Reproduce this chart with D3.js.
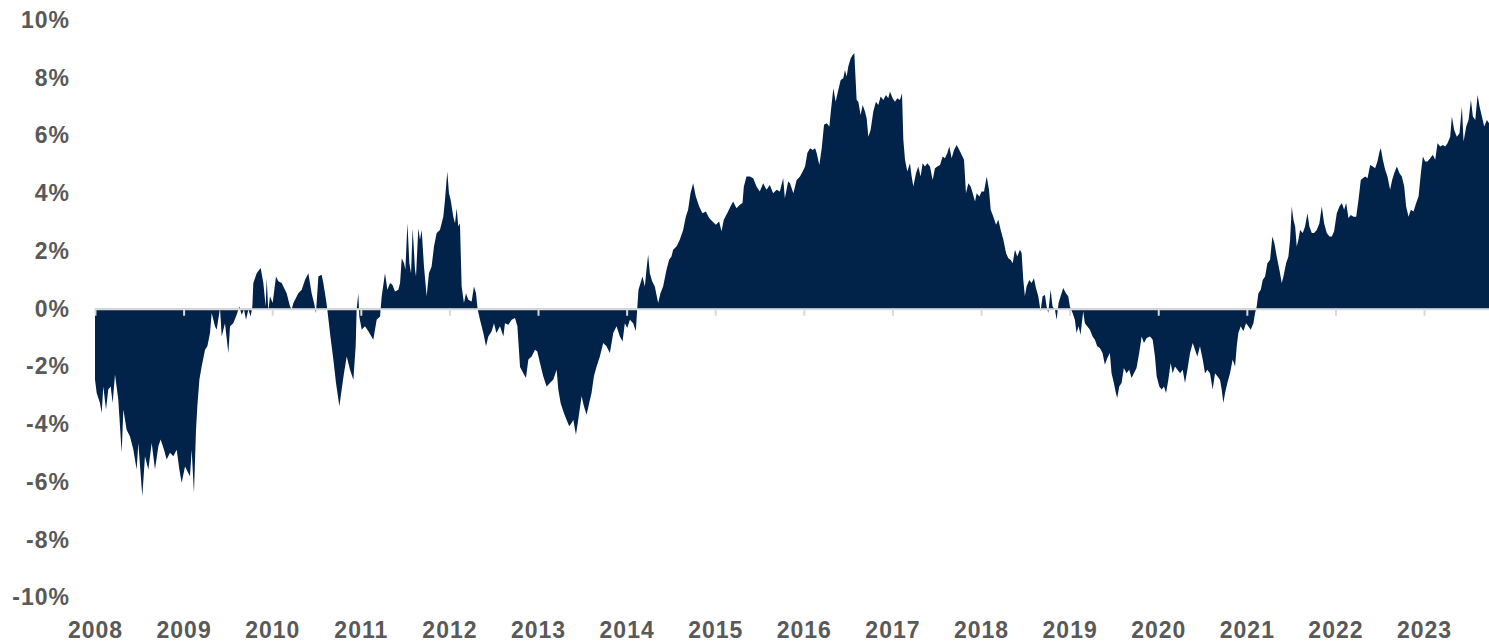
<!DOCTYPE html>
<html>
<head>
<meta charset="utf-8">
<script src="https://cdn.jsdelivr.net/npm/d3@7"></script>
<style>
  body { margin: 0; background: #fff; }
  svg text { font-family: "Liberation Sans", Arial, sans-serif; font-weight: bold; fill: #595959; letter-spacing: 1px; }
</style>
</head>
<body>
<svg></svg>
<script>
// dates as decimal years, values in %
var dates = [
  2008.000, 2008.019, 2008.056, 2008.075, 2008.094, 2008.124, 2008.150, 2008.177, 2008.199, 2008.226,
  2008.263, 2008.301, 2008.320, 2008.357, 2008.395, 2008.433, 2008.470, 2008.489, 2008.534, 2008.564,
  2008.602, 2008.640, 2008.677, 2008.715, 2008.741, 2008.779, 2008.809, 2008.846, 2008.884, 2008.922,
  2008.952, 2008.978,
  2009.016, 2009.072, 2009.091, 2009.117, 2009.140, 2009.155, 2009.178, 2009.204, 2009.242, 2009.268,
  2009.298, 2009.317, 2009.354, 2009.373, 2009.411, 2009.430, 2009.467, 2009.505, 2009.524, 2009.561,
  2009.599, 2009.629, 2009.655, 2009.682, 2009.704, 2009.731, 2009.757, 2009.776, 2009.787, 2009.825,
  2009.870, 2009.900, 2009.926, 2009.938, 2009.956, 2009.975,
  2010.005, 2010.043, 2010.069, 2010.107, 2010.163, 2010.201, 2010.220, 2010.239, 2010.295, 2010.333,
  2010.370, 2010.408, 2010.445, 2010.472, 2010.494, 2010.521, 2010.558, 2010.577, 2010.607, 2010.622,
  2010.652, 2010.690, 2010.720, 2010.758, 2010.784, 2010.810, 2010.841, 2010.878, 2010.916, 2010.942,
  2010.953, 2010.972, 2010.983,
  2011.010, 2011.047, 2011.085, 2011.141, 2011.179, 2011.217, 2011.236, 2011.273, 2011.300, 2011.330,
  2011.356, 2011.386, 2011.424, 2011.443, 2011.462, 2011.488, 2011.503, 2011.526, 2011.548, 2011.567,
  2011.585, 2011.612, 2011.623, 2011.649, 2011.668, 2011.687, 2011.713, 2011.743, 2011.769, 2011.799,
  2011.826, 2011.856, 2011.893, 2011.931, 2011.950, 2011.976, 2011.995,
  2012.014, 2012.044, 2012.063, 2012.082, 2012.100, 2012.119, 2012.138, 2012.164, 2012.187, 2012.213,
  2012.251, 2012.277, 2012.300, 2012.318, 2012.345, 2012.383, 2012.413, 2012.439, 2012.477, 2012.503,
  2012.530, 2012.571, 2012.609, 2012.627, 2012.665, 2012.703, 2012.740, 2012.767, 2012.797, 2012.834,
  2012.864, 2012.891, 2012.928, 2012.966, 2012.992,
  2013.022, 2013.059, 2013.097, 2013.134, 2013.172, 2013.210, 2013.229, 2013.255, 2013.292, 2013.322,
  2013.352, 2013.379, 2013.398, 2013.428, 2013.454, 2013.492, 2013.518, 2013.548, 2013.578, 2013.604,
  2013.631, 2013.661, 2013.698, 2013.736, 2013.773, 2013.811, 2013.849, 2013.886, 2013.924, 2013.954,
  2013.980,
  2014.007, 2014.037, 2014.074, 2014.104, 2014.119, 2014.134, 2014.157, 2014.179, 2014.206, 2014.224,
  2014.243, 2014.262, 2014.288, 2014.318, 2014.356, 2014.382, 2014.412, 2014.450, 2014.480, 2014.506,
  2014.525, 2014.563, 2014.600, 2014.638, 2014.668, 2014.694, 2014.721, 2014.751, 2014.781, 2014.819,
  2014.856, 2014.894, 2014.931, 2014.969,
  2015.007, 2015.044, 2015.071, 2015.097, 2015.135, 2015.172, 2015.202, 2015.240, 2015.278, 2015.308,
  2015.323, 2015.353, 2015.391, 2015.428, 2015.466, 2015.503, 2015.541, 2015.579, 2015.616, 2015.654,
  2015.692, 2015.729, 2015.767, 2015.786, 2015.823, 2015.844, 2015.882, 2015.919, 2015.957, 2015.987,
  2016.014, 2016.040, 2016.070, 2016.100, 2016.127, 2016.145, 2016.175, 2016.202, 2016.228, 2016.258,
  2016.288, 2016.303, 2016.333, 2016.359, 2016.389, 2016.416, 2016.446, 2016.464, 2016.483, 2016.502,
  2016.528, 2016.551, 2016.570, 2016.581, 2016.596, 2016.615, 2016.641, 2016.664, 2016.690, 2016.709,
  2016.728, 2016.754, 2016.784, 2016.814, 2016.840, 2016.867, 2016.897, 2016.927, 2016.953, 2016.972,
  2017.002, 2017.029, 2017.055, 2017.085, 2017.108, 2017.123, 2017.142, 2017.168, 2017.198, 2017.217,
  2017.236, 2017.266, 2017.292, 2017.318, 2017.341, 2017.367, 2017.394, 2017.424, 2017.454, 2017.480,
  2017.507, 2017.537, 2017.567, 2017.593, 2017.620, 2017.642, 2017.668, 2017.695, 2017.725, 2017.755,
  2017.781, 2017.808, 2017.830, 2017.857, 2017.883, 2017.906, 2017.932, 2017.951, 2017.981,
  2018.007, 2018.034, 2018.064, 2018.090, 2018.109, 2018.139, 2018.169, 2018.195, 2018.222, 2018.252,
  2018.282, 2018.308, 2018.334, 2018.357, 2018.383, 2018.409, 2018.439, 2018.458, 2018.477, 2018.495,
  2018.514, 2018.544, 2018.571, 2018.597, 2018.620, 2018.646, 2018.672, 2018.695, 2018.721, 2018.740,
  2018.759, 2018.785, 2018.807, 2018.834, 2018.853, 2018.875, 2018.898, 2018.928, 2018.958, 2018.984,
  2019.003, 2019.033, 2019.059, 2019.078, 2019.101, 2019.123, 2019.153, 2019.172, 2019.198, 2019.229,
  2019.259, 2019.285, 2019.311, 2019.341, 2019.371, 2019.398, 2019.424, 2019.454, 2019.473, 2019.499,
  2019.522, 2019.537, 2019.560, 2019.586, 2019.612, 2019.642, 2019.672, 2019.699, 2019.725, 2019.755,
  2019.785, 2019.813, 2019.839, 2019.869, 2019.907, 2019.937, 2019.963, 2019.982,
  2020.012, 2020.039, 2020.065, 2020.088, 2020.114, 2020.140, 2020.163, 2020.189, 2020.216, 2020.246,
  2020.276, 2020.302, 2020.329, 2020.359, 2020.389, 2020.415, 2020.441, 2020.471, 2020.502, 2020.528,
  2020.554, 2020.584, 2020.614, 2020.641, 2020.667, 2020.697, 2020.716, 2020.735, 2020.754, 2020.780,
  2020.810, 2020.840, 2020.867, 2020.886, 2020.904, 2020.931, 2020.961, 2020.991,
  2021.017, 2021.044, 2021.074, 2021.093, 2021.111, 2021.130, 2021.157, 2021.179, 2021.206, 2021.232,
  2021.262, 2021.288, 2021.311, 2021.337, 2021.367, 2021.394, 2021.413, 2021.443, 2021.469, 2021.488,
  2021.507, 2021.526, 2021.545, 2021.563, 2021.582, 2021.601, 2021.631, 2021.657, 2021.684, 2021.706,
  2021.733, 2021.759, 2021.789, 2021.819, 2021.846, 2021.872, 2021.902, 2021.932, 2021.959, 2021.985,
  2022.015, 2022.045, 2022.072, 2022.098, 2022.121, 2022.147, 2022.173, 2022.204, 2022.234, 2022.260,
  2022.286, 2022.309, 2022.335, 2022.362, 2022.392, 2022.422, 2022.448, 2022.474, 2022.497, 2022.512,
  2022.535, 2022.561, 2022.587, 2022.617, 2022.640, 2022.663, 2022.693, 2022.723, 2022.749, 2022.776,
  2022.798, 2022.825, 2022.851, 2022.881, 2022.911, 2022.938, 2022.964, 2022.987,
  2023.013, 2023.039, 2023.069, 2023.099, 2023.126, 2023.152, 2023.182, 2023.212, 2023.239, 2023.265,
  2023.295, 2023.314, 2023.340, 2023.370, 2023.400, 2023.427, 2023.446, 2023.476, 2023.502, 2023.529,
  2023.551, 2023.578, 2023.604, 2023.627, 2023.653, 2023.679, 2023.709, 2023.733
];

var values = [
  -2.45, -2.92, -3.26, -3.61, -2.69, -3.49, -2.80, -2.69, -3.26, -2.28,
  -3.15, -4.99, -3.49, -4.19, -4.42, -4.88, -5.57, -4.65, -6.49, -5.11,
  -5.57, -4.65, -5.57, -4.76, -4.53, -4.88, -5.22, -4.99, -5.11, -4.88,
  -5.57, -6.03,
  -5.46, -5.80, -4.88, -6.38, -4.19, -3.38, -2.46, -2.00, -1.42, -1.30,
  -0.84, -0.15, -0.61, -0.73, 0.02, -0.96, -0.50, -1.53, -0.61, -0.50,
  -0.21, 0.08, -0.21, -0.03, -0.38, -0.03, -0.27, 0.08, 0.89, 1.23,
  1.41, 0.89, 0.08, 1.06, -0.09, 0.43,
  0.20, 1.12, 0.95, 0.89, 0.54, 0.08, -0.03, 0.20, 0.54, 0.66,
  1.00, 1.23, 0.54, 0.20, -0.15, 1.12, 1.18, 0.89, 0.31, -0.03,
  -0.84, -1.76, -2.57, -3.38, -2.80, -2.23, -1.65, -2.11, -2.46, -1.30,
  -0.03, 0.54, -0.27,
  -0.73, -0.61, -0.78, -1.07, -0.38, -0.27, 0.43, 1.23, 0.66, 0.89,
  0.83, 0.60, 0.66, 0.89, 1.75, 1.58, 1.35, 2.96, 1.58, 1.23,
  2.79, 1.35, 1.12, 2.79, 2.39, 2.73, 1.46, 0.43, 1.23, 1.46,
  2.16, 2.62, 2.73, 3.19, 3.77, 4.75, 4.00,
  3.77, 3.19, 2.96, 3.48, 2.85, 2.96, 0.77, 0.20, 0.54, 0.31,
  0.25, 0.77, 0.54, -0.01, -0.38, -0.84, -1.30, -0.96, -0.78, -0.50,
  -0.84, -0.61, -0.96, -0.50, -0.55, -0.38, -0.32, -0.61, -2.02, -2.23,
  -2.40, -1.76, -1.65, -1.42, -1.48,
  -1.88, -2.34, -2.69, -2.57, -2.46, -2.11, -2.80, -3.26, -3.61, -3.84,
  -4.07, -3.96, -3.84, -4.36, -3.84, -3.03, -3.38, -3.67, -3.26, -2.92,
  -2.34, -2.00, -1.65, -1.19, -1.30, -1.53, -0.84, -0.61, -0.96, -1.13,
  -0.50,
  -0.67, -0.38, -0.50, -0.78, -0.03, 0.66, 0.89, 1.12, 0.77, 1.35,
  1.87, 1.23, 0.95, 0.77, 0.20, 0.54, 0.77, 1.35, 1.70, 1.81,
  2.04, 2.16, 2.39, 2.73, 3.19, 3.43, 4.00, 4.35, 3.89, 3.54,
  3.31, 3.37, 3.14, 3.02,
  2.91, 3.02, 2.68, 3.08, 3.31, 3.54, 3.71, 3.48, 3.60, 3.66,
  4.23, 4.58, 4.58, 4.52, 4.23, 4.06, 4.35, 4.12, 4.29, 4.00,
  4.12, 4.06, 4.52, 3.83, 4.41, 4.35, 4.00, 4.46, 4.58, 4.75,
  4.93, 5.39, 5.56, 5.50, 5.56, 5.39, 4.98, 5.56, 6.37, 6.42,
  6.31, 6.77, 7.64, 7.17, 7.58, 7.92, 7.98, 8.27, 8.04, 8.39,
  8.67, 8.79, 8.85, 8.15, 7.23, 7.17, 6.71, 7.06, 6.83, 6.60,
  5.96, 6.19, 6.83, 7.17, 7.06, 7.35, 7.23, 7.40, 7.29, 7.52,
  7.29, 7.17, 7.29, 7.23, 7.46, 5.85, 5.16, 4.75, 5.04, 4.58,
  4.23, 4.69, 4.93, 4.58, 5.04, 4.93, 5.04, 4.93, 4.46, 4.87,
  4.93, 4.98, 5.27, 5.21, 5.39, 5.62, 5.21, 5.50, 5.67, 5.50,
  5.33, 5.16, 4.00, 4.35, 4.23, 4.00, 3.71, 4.00, 3.89,
  4.06, 4.06, 4.58, 4.12, 3.43, 3.19, 2.91, 3.08, 2.73, 2.39,
  1.93, 1.75, 1.70, 1.58, 2.04, 1.81, 2.04, 1.93, 1.00, 0.43,
  0.77, 1.00, 0.89, 1.06, 0.72, 0.43, -0.09, 0.43, 0.48, 0.08,
  -0.15, 0.66, 0.08, -0.03, -0.38, 0.20, 0.43, 0.72, 0.54, 0.43,
  0.08, -0.15, -0.38, -0.84, -0.61, -0.90, -0.09, -0.50, -0.61, -0.73,
  -0.96, -1.07, -1.30, -1.36, -1.53, -1.94, -1.71, -1.53, -2.23, -2.57,
  -2.92, -3.09, -2.69, -2.57, -2.05, -2.23, -2.11, -2.40, -2.23, -2.05,
  -1.53, -0.96, -1.19, -1.01, -0.96, -1.07, -1.65, -2.34,
  -2.69, -2.80, -2.69, -2.92, -2.46, -1.88, -2.23, -2.00, -2.11, -2.23,
  -2.11, -2.57, -2.11, -1.53, -1.19, -1.42, -1.65, -1.30, -1.76, -2.23,
  -2.11, -2.23, -2.80, -2.23, -2.34, -2.46, -2.80, -3.26, -2.92, -2.57,
  -2.23, -1.76, -2.00, -1.30, -0.84, -0.61, -0.78, -0.50,
  -0.61, -0.73, -0.50, -0.15, 0.08, 0.54, 0.66, 1.00, 1.12, 1.58,
  1.70, 2.50, 2.27, 1.81, 1.35, 0.89, 1.12, 1.58, 1.81, 2.39,
  3.54, 3.08, 2.85, 2.16, 2.39, 2.73, 2.62, 2.85, 3.31, 2.85,
  2.62, 2.62, 2.73, 2.96, 3.54, 2.96, 2.62, 2.50, 2.50, 2.68,
  3.31, 3.54, 3.66, 3.43, 3.66, 3.14, 3.25, 3.19, 3.19, 3.77,
  4.46, 4.52, 4.58, 4.52, 4.98, 4.93, 4.87, 5.10, 5.44, 5.56,
  5.16, 4.81, 4.58, 4.12, 4.46, 4.69, 4.93, 4.69, 4.58, 4.23,
  3.54, 3.19, 3.43, 3.37, 3.66, 3.89, 4.69, 5.27,
  5.10, 5.10, 5.21, 5.33, 5.16, 5.73, 5.62, 5.67, 5.62, 5.73,
  5.96, 6.66, 6.19, 5.96, 6.08, 7.00, 5.79, 6.31, 6.54, 7.23,
  6.66, 6.54, 7.40, 7.00, 6.66, 6.31, 6.54, 6.42
];

var yTicks = [-10, -8, -6, -4, -2, 0, 2, 4, 6, 8, 10];
var years = d3.range(2008, 2024);

var width = 1489, height = 643;
var svg = d3.select('svg')
  .attr('width', width)
  .attr('height', height);

var data = dates.map(function(d, i){ return {t: d, v: values[i]}; });

var x = d3.scaleLinear()
  .domain([2008, dates[dates.length - 1]])
  .range([95, 1489]);

var y = d3.scaleLinear()
  .domain([-10, 10])
  .range([597.5, 20]);

var area = d3.area()
  .x(function(d){ return x(d.t); })
  .y0(y(0))
  .y1(function(d){ return y(d.v); });

svg.append('path')
  .datum(data)
  .attr('fill', '#012249')
  .attr('d', area);

// zero line with year ticks
var zeroAxis = svg.append('g')
  .attr('transform', 'translate(0,' + y(0) + ')')
  .call(d3.axisBottom(x).tickValues(years).tickSize(7).tickSizeOuter(0).tickFormat(''));
zeroAxis.selectAll('path, line')
  .attr('stroke', '#d9d9d9')
  .attr('stroke-width', 2);

// year labels
var xLabels = svg.append('g')
  .attr('transform', 'translate(0,638)')
  .call(d3.axisBottom(x).tickValues(years).tickSize(0).tickFormat(d3.format('d')));
xLabels.select('.domain').remove();
xLabels.selectAll('text')
  .attr('y', 0)
  .attr('dy', null)
  .style('font-size', '23px');

// y labels
var yLabels = svg.append('g')
  .attr('transform', 'translate(70,0)')
  .call(d3.axisLeft(y).tickValues(yTicks).tickSize(0).tickPadding(0)
    .tickFormat(function(d){ return d + '%'; }));
yLabels.select('.domain').remove();
yLabels.selectAll('text')
  .style('font-size', '23px');
</script>
</body>
</html>
